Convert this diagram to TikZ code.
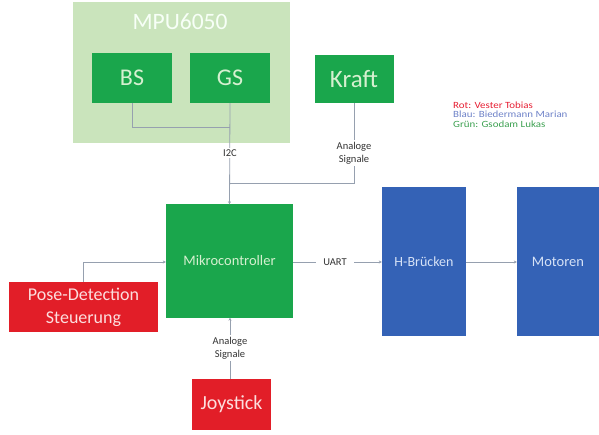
\documentclass[tikz,border=0pt]{standalone}
\usepackage{fontspec}
\setmainfont{Carlito}
\newfontfamily\legfont[FakeStretch=1.15]{Carlito}
\usetikzlibrary{arrows.meta}
\definecolor{bgg}{RGB}{202,228,188}
\definecolor{gbox}{RGB}{26,166,76}
\definecolor{rbox}{RGB}{226,30,40}
\definecolor{bbox}{RGB}{52,98,182}
\definecolor{lnc}{RGB}{150,160,175}
\definecolor{gtext}{RGB}{214,240,208}
\definecolor{rtext}{RGB}{252,222,222}
\definecolor{btext}{RGB}{214,226,246}
\definecolor{legr}{RGB}{230,30,50}
\definecolor{legb}{RGB}{110,130,200}
\definecolor{legg}{RGB}{60,160,80}
\tikzset{
  x=1pt, y=-1pt,
  boxg/.style={fill=gbox, draw=none, text=gtext, inner sep=0pt},
  boxr/.style={fill=rbox, draw=none, text=rtext, inner sep=0pt},
  boxb/.style={fill=bbox, draw=none, text=btext, inner sep=0pt},
  conn/.style={draw=lnc, line width=0.8pt},
  arr/.style={conn, -{Stealth[length=3pt,width=3pt]}},
  lbl/.style={fill=white, inner sep=1.5pt, font=\fontsize{10.5}{13}\selectfont, text=black!80, align=center},
  leg/.style={anchor=west, inner sep=0pt, font=\legfont\fontsize{9.5}{11}\selectfont}
}
\begin{document}
\begin{tikzpicture}
\useasboundingbox (0,0) rectangle (599,435);
% MPU6050 background
\node[fill=bgg, minimum width=217pt, minimum height=141pt, inner sep=0pt, anchor=north west] (mpu) at (73,2) {};
\node[text=white!97!green, font=\fontsize{23.5}{26}\selectfont] (mputitle) at (180,22) {MPU6050};
\node[boxg, minimum width=80pt, minimum height=50pt, font=\fontsize{24}{26}\selectfont] (bs) at (132,78) {BS};
\node[boxg, minimum width=80pt, minimum height=50pt, font=\fontsize{24}{26}\selectfont] (gs) at (230,78) {GS};
\node[boxg, minimum width=79pt, minimum height=48pt, font=\fontsize{25}{26}\selectfont] (kraft) at (354,79) {Kraft};
% legend
\node[leg, text=legr] (l1) at (453,105) {Rot: Vester Tobias};
\node[leg, text=legb] (l2) at (453,114.5) {Blau: Biedermann Marian};
\node[leg, text=legg] (l3) at (453,124) {Grün: Gsodam Lukas};
% main boxes
\node[boxg, minimum width=127pt, minimum height=113pt, font=\fontsize{14.5}{16}\selectfont] (mc) at (229.5,261) {Mikrocontroller};
\node[boxr, minimum width=149pt, minimum height=50pt, align=center, font=\fontsize{18}{23}\selectfont] (pose) at (83.5,307) {Pose-Detection\\Steuerung};
\node[boxr, minimum width=79pt, minimum height=51pt, font=\fontsize{20}{22}\selectfont] (joy) at (231.5,404.5) {Joystick};
\node[boxb, minimum width=84pt, minimum height=149pt, font=\fontsize{14}{16}\selectfont] (hb) at (424,261.5) {H-Brücken};
\node[boxb, minimum width=82pt, minimum height=149pt, font=\fontsize{14.5}{16}\selectfont] (mot) at (558,261.5) {Motoren};
% connectors
\coordinate (bsj) at (230,127);
\coordinate (kj) at (230,183);
\draw[conn] (bs.south) |- (bsj);
\draw[arr] (gs.south) -- (mc.north);
\node[lbl] (i2c) at (230,153) {I2C};
\draw[conn] (kraft.south) |- (kj);
\node[lbl] (kl) at (354,153) {Analoge\\Signale};
\draw[arr] (pose.north -| 83,0) |- (mc.west |- 0,262);
\draw[arr] (joy.north -| 230,0) -- (mc.south -| 230,0);
\node[lbl] (jl) at (230,348) {Analoge\\Signale};
\draw[arr] (mc.east |- 0,262) -- (hb.west |- 0,262);
\node[lbl, inner xsep=7pt] (uart) at (335,262) {UART};
\draw[arr] (hb.east |- 0,262) -- (mot.west |- 0,262);
\end{tikzpicture}
\end{document}
